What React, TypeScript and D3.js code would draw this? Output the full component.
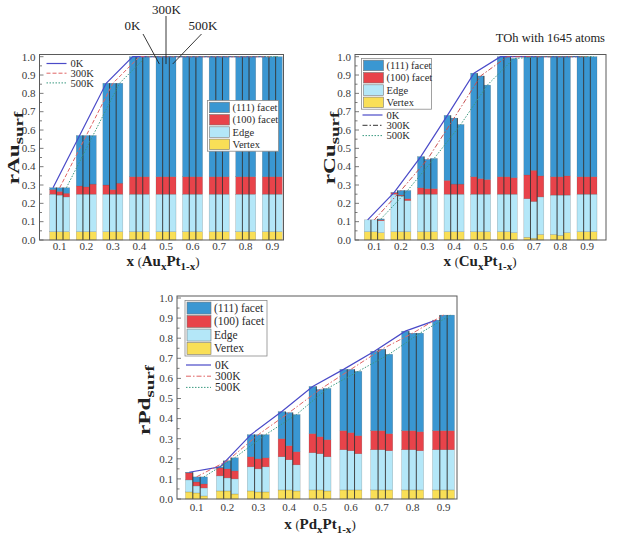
import React from 'react';
import * as d3 from 'd3';

const W = 621;
const H = 546;
const FONT = "'Liberation Serif','Times New Roman',serif";

const xValues = [0.1, 0.2, 0.3, 0.4, 0.5, 0.6, 0.7, 0.8, 0.9];
const xTickLabels = ['0.1', '0.2', '0.3', '0.4', '0.5', '0.6', '0.7', '0.8', '0.9'];
const yTicks = [0, 0.1, 0.2, 0.3, 0.4, 0.5, 0.6, 0.7, 0.8, 0.9, 1.0];
const temps = ['0K', '300K', '500K'];
const layerKeys = ['vertex', 'edge', 'f100', 'f111'];
const layerLabels = ['Vertex', 'Edge', '(100) facet', '(111) facet'];

// ---------- Au_xPt_(1-x) ----------  rows: 0K, 300K, 500K
const auVertex = [
  [0.045, 0.045, 0.045, 0.045, 0.045, 0.045, 0.045, 0.045, 0.045],
  [0.045, 0.045, 0.045, 0.045, 0.045, 0.045, 0.045, 0.045, 0.045],
  [0.045, 0.045, 0.045, 0.045, 0.045, 0.045, 0.045, 0.045, 0.045],
];
const auEdge = [
  [0.205, 0.205, 0.205, 0.205, 0.205, 0.205, 0.205, 0.205, 0.205],
  [0.2, 0.205, 0.205, 0.205, 0.205, 0.205, 0.205, 0.205, 0.205],
  [0.19, 0.205, 0.205, 0.205, 0.205, 0.205, 0.205, 0.205, 0.205],
];
const auF100 = [
  [0.025, 0.045, 0.05, 0.095, 0.095, 0.095, 0.095, 0.095, 0.095],
  [0.02, 0.04, 0.025, 0.095, 0.095, 0.095, 0.095, 0.095, 0.095],
  [0.02, 0.055, 0.06, 0.095, 0.095, 0.095, 0.095, 0.095, 0.095],
];
const auF111 = [
  [0.01, 0.275, 0.555, 0.655, 0.655, 0.655, 0.655, 0.655, 0.655],
  [0.02, 0.28, 0.58, 0.655, 0.655, 0.655, 0.655, 0.655, 0.655],
  [0.03, 0.265, 0.545, 0.655, 0.655, 0.655, 0.655, 0.655, 0.655],
];

// ---------- Cu_xPt_(1-x) ----------
const cuVertex = [
  [0.045, 0.045, 0.045, 0.045, 0.045, 0.045, 0.015, 0.03, 0.045],
  [0.045, 0.045, 0.045, 0.045, 0.045, 0.045, 0.01, 0.025, 0.045],
  [0.04, 0.045, 0.045, 0.045, 0.045, 0.04, 0.03, 0.04, 0.045],
];
const cuEdge = [
  [0.065, 0.205, 0.205, 0.205, 0.205, 0.205, 0.21, 0.215, 0.205],
  [0.065, 0.195, 0.205, 0.205, 0.205, 0.205, 0.2, 0.22, 0.205],
  [0.065, 0.17, 0.205, 0.205, 0.205, 0.21, 0.205, 0.205, 0.205],
];
const cuF100 = [
  [0, 0.008, 0.035, 0.075, 0.095, 0.095, 0.13, 0.1, 0.095],
  [0, 0.005, 0.03, 0.055, 0.085, 0.095, 0.17, 0.1, 0.095],
  [0.005, 0.01, 0.03, 0.055, 0.08, 0.09, 0.115, 0.105, 0.095],
];
const cuF111 = [
  [0, 0.002, 0.17, 0.355, 0.565, 0.655, 0.645, 0.655, 0.655],
  [0, 0.025, 0.16, 0.36, 0.56, 0.655, 0.62, 0.655, 0.655],
  [0.005, 0.045, 0.165, 0.325, 0.515, 0.65, 0.65, 0.65, 0.655],
];

// ---------- Pd_xPt_(1-x) ----------
const pdVertex = [
  [0.035, 0.04, 0.04, 0.045, 0.045, 0.045, 0.045, 0.045, 0.045],
  [0.03, 0.04, 0.035, 0.045, 0.045, 0.045, 0.045, 0.045, 0.045],
  [0.015, 0.025, 0.035, 0.04, 0.04, 0.045, 0.045, 0.045, 0.045],
];
const pdEdge = [
  [0.06, 0.075, 0.12, 0.165, 0.185, 0.2, 0.2, 0.2, 0.2],
  [0.035, 0.065, 0.115, 0.15, 0.18, 0.195, 0.2, 0.2, 0.2],
  [0.04, 0.075, 0.125, 0.13, 0.17, 0.18, 0.195, 0.195, 0.2],
];
const pdF100 = [
  [0.035, 0.04, 0.05, 0.09, 0.095, 0.095, 0.095, 0.095, 0.095],
  [0.02, 0.045, 0.05, 0.07, 0.085, 0.09, 0.095, 0.095, 0.095],
  [0.02, 0.04, 0.045, 0.065, 0.085, 0.09, 0.085, 0.095, 0.095],
];
const pdF111 = [
  [0.003, 0.005, 0.11, 0.135, 0.235, 0.305, 0.395, 0.495, 0.55],
  [0.025, 0.04, 0.12, 0.165, 0.235, 0.315, 0.405, 0.485, 0.575],
  [0.035, 0.065, 0.115, 0.185, 0.255, 0.32, 0.395, 0.49, 0.575],
];

const COLORS: Record<string, string> = {
  vertex: '#f9df57',
  edge: '#b4e7f8',
  f100: '#e8434a',
  f111: '#3a97d2',
};

type LineStyle = { color: string; legendColor: string; dash: string | null; width: number };

const auLines: LineStyle[] = [
  { color: '#4a4ac8', legendColor: '#4a4ac8', dash: null, width: 1.2 },
  { color: '#e06464', legendColor: '#e06464', dash: '4,2', width: 1 },
  { color: '#3a9a80', legendColor: '#3a9a80', dash: '1.5,1.5', width: 1 },
];
const cuLines: LineStyle[] = [
  { color: '#4a4ac8', legendColor: '#4a4ac8', dash: null, width: 1.2 },
  { color: '#c85050', legendColor: '#333333', dash: '5,2,1.5,2', width: 1 },
  { color: '#3a9a80', legendColor: '#3a9a80', dash: '1.5,1.5', width: 1 },
];
const pdLines: LineStyle[] = [
  { color: '#4a4ac8', legendColor: '#4a4ac8', dash: null, width: 1.2 },
  { color: '#e06464', legendColor: '#e06464', dash: '5,2,1.5,2', width: 1 },
  { color: '#3a9a80', legendColor: '#3a9a80', dash: '1.5,1.5', width: 1 },
];

type Layout = {
  left: number; right: number; top: number; y0: number; y1: number;
  x1c: number; x9c: number; gw: number; tickLabelY: number;
  xTitle: [number, number]; yTitle: [number, number];
  barLegend: { x: number; y: number; w: number; rowH: number; swW: number; swH: number; fs: number };
  lineLegend: { x: number; y: number; len: number; rowH: number; fs: number };
};

const panels = [
  {
    elem: 'Au', vertex: auVertex, edge: auEdge, f100: auF100, f111: auF111, lines: auLines,
    layout: {
      left: 39.5, right: 283.5, top: 54.5, y0: 240, y1: 56.7, x1c: 59.7, x9c: 272.3, gw: 20,
      tickLabelY: 250, xTitle: [163, 266], yTitle: [19, 148],
      barLegend: { x: 207.5, y: 100.5, w: 71, rowH: 12.3, swW: 20, swH: 10.5, fs: 10.5 },
      lineLegend: { x: 46.5, y: 63.5, len: 20, rowH: 9.7, fs: 10.5 },
    } as Layout,
  },
  {
    elem: 'Cu', vertex: cuVertex, edge: cuEdge, f100: cuF100, f111: cuF111, lines: cuLines,
    layout: {
      left: 355, right: 606, top: 54.5, y0: 240, y1: 56.7, x1c: 374.3, x9c: 587, gw: 20,
      tickLabelY: 250, xTitle: [480, 266], yTitle: [335, 148],
      barLegend: { x: 361.5, y: 58.5, w: 70, rowH: 12.3, swW: 20, swH: 10.5, fs: 10.5 },
      lineLegend: { x: 362.5, y: 115, len: 20, rowH: 10.3, fs: 10.5 },
    } as Layout,
  },
  {
    elem: 'Pd', vertex: pdVertex, edge: pdEdge, f100: pdF100, f111: pdF111, lines: pdLines,
    layout: {
      left: 177, right: 457, top: 296, y0: 499, y1: 298, x1c: 196.5, x9c: 443.5, gw: 22,
      tickLabelY: 511, xTitle: [320, 529], yTitle: [150, 400],
      barLegend: { x: 185, y: 300.5, w: 82, rowH: 13.5, swW: 24, swH: 12, fs: 11.5 },
      lineLegend: { x: 186, y: 365, len: 25, rowH: 11.2, fs: 11.5 },
    } as Layout,
  },
];

function Panel({ p }: { p: (typeof panels)[number] }) {
  const L = p.layout;
  const x = d3.scaleLinear().domain([0.1, 0.9]).range([L.x1c, L.x9c]);
  const y = d3.scaleLinear().domain([0, 1]).range([L.y0, L.y1]);
  const band = d3.scaleBand<string>().domain(temps).range([-L.gw / 2, L.gw / 2]).padding(0);
  const bw = band.bandwidth();
  const stack = d3.stack<any>().keys(layerKeys);

  const stacked = temps.map((t, ti) => {
    const rows = xValues.map((xv, i) => ({
      x: xv,
      vertex: p.vertex[ti][i],
      edge: p.edge[ti][i],
      f100: p.f100[ti][i],
      f111: p.f111[ti][i],
    }));
    return stack(rows);
  });
  const totals = temps.map((t, ti) => xValues.map((_, i) => stacked[ti][3][i][1]));

  const line = d3.line<[number, number]>().x((d) => d[0]).y((d) => d[1]);
  const minorTicks = d3.range(0, 1.001, 0.05);

  return (
    <g>
      {/* bars */}
      {temps.map((t, ti) =>
        stacked[ti].map((series, li) =>
          series.map((d, i) => {
            const x0 = x(xValues[i]) + (band(t) as number);
            const h = y(d[0]) - y(d[1]);
            if (h <= 0) return null;
            return (
              <rect
                key={`${t}-${li}-${i}`}
                x={x0}
                y={y(d[1])}
                width={bw}
                height={h}
                fill={COLORS[layerKeys[li]]}
                stroke="rgba(70,70,70,0.45)"
                strokeWidth={0.4}
              />
            );
          })
        )
      )}
      {/* dividers between bars */}
      {xValues.map((xv, i) =>
        [0, 1].map((k) => {
          const xx = x(xv) + (band(temps[k]) as number) + bw;
          const top = Math.max(totals[k][i], totals[k + 1][i]);
          return (
            <line key={`div-${i}-${k}`} x1={xx} x2={xx} y1={y(0)} y2={y(top)} stroke="#2a2a2a" strokeWidth={0.8} />
          );
        })
      )}
      {/* temperature lines */}
      {temps.map((t, ti) => {
        const pts: [number, number][] = xValues.map((xv, i) => [
          x(xv) + (band(t) as number) + bw / 2,
          y(totals[ti][i]),
        ]);
        const st = p.lines[ti];
        return (
          <path
            key={`ln-${t}`}
            d={line(pts) || ''}
            fill="none"
            stroke={st.color}
            strokeWidth={st.width}
            strokeDasharray={st.dash || undefined}
          />
        );
      })}
      {/* frame */}
      <rect x={L.left} y={L.top} width={L.right - L.left} height={L.y0 - L.top} fill="none" stroke="#5a5a5a" strokeWidth={1} />
      {/* y ticks */}
      {minorTicks.map((v, i) => (
        <line
          key={`yt-${i}`}
          x1={L.left}
          x2={L.left + (i % 2 === 0 ? 4 : 2.5)}
          y1={y(v)}
          y2={y(v)}
          stroke="#5a5a5a"
          strokeWidth={0.8}
        />
      ))}
      {yTicks.map((v) => (
        <text key={`yl-${v}`} x={L.left - 4} y={y(v) + 3.8} textAnchor="end" fontSize={11} fill="#3a3a3a" fontFamily={FONT}>
          {v.toFixed(1)}
        </text>
      ))}
      {xValues.map((xv, i) => (
        <text key={`xl-${i}`} x={x(xv)} y={L.tickLabelY} textAnchor="middle" fontSize={11} fill="#3a3a3a" fontFamily={FONT}>
          {xTickLabels[i]}
        </text>
      ))}
      {/* x title */}
      <text x={L.xTitle[0]} y={L.xTitle[1]} textAnchor="middle" fontFamily={FONT} fontWeight="bold" fontSize={15} fill="#222">
        x <tspan fontWeight="normal" fontSize={12}>(</tspan>
        {p.elem}
        <tspan fontSize={11} dy={4}>x</tspan>
        <tspan dy={-4}>Pt</tspan>
        <tspan fontSize={11} dy={4}>1-x</tspan>
        <tspan fontWeight="normal" fontSize={13} dy={-4}>)</tspan>
      </text>
      {/* y title */}
      <text
        transform={`translate(${L.yTitle[0]},${L.yTitle[1]}) rotate(-90) scale(1.45,1)`}
        textAnchor="middle"
        fontFamily={FONT}
        fontWeight="bold"
        fontSize={16}
        fill="#222"
      >
        r{p.elem}
        <tspan fontSize={13} dy={4}>surf</tspan>
      </text>
      {/* bar legend */}
      <g>
        <rect
          x={L.barLegend.x}
          y={L.barLegend.y}
          width={L.barLegend.w}
          height={L.barLegend.rowH * 4 + 1.5}
          fill="#fff"
          stroke="#8a8a8a"
          strokeWidth={0.8}
        />
        {[3, 2, 1, 0].map((li, r) => {
          const cy = L.barLegend.y + L.barLegend.rowH * (r + 0.5) + 0.8;
          return (
            <g key={`bl-${li}`}>
              <rect
                x={L.barLegend.x + 2}
                y={cy - L.barLegend.swH / 2}
                width={L.barLegend.swW}
                height={L.barLegend.swH}
                fill={COLORS[layerKeys[li]]}
                stroke="#777"
                strokeWidth={0.6}
              />
              <text
                x={L.barLegend.x + L.barLegend.swW + 5}
                y={cy + 3.7}
                fontSize={L.barLegend.fs}
                fontFamily={FONT}
                fill="#2a2a2a"
              >
                {layerLabels[li]}
              </text>
            </g>
          );
        })}
      </g>
      {/* line legend */}
      <g>
        {temps.map((t, ti) => {
          const cy = L.lineLegend.y + ti * L.lineLegend.rowH;
          const st = p.lines[ti];
          return (
            <g key={`ll-${t}`}>
              <line
                x1={L.lineLegend.x}
                x2={L.lineLegend.x + L.lineLegend.len}
                y1={cy}
                y2={cy}
                stroke={st.legendColor}
                strokeWidth={st.width}
                strokeDasharray={st.dash || undefined}
              />
              <text x={L.lineLegend.x + L.lineLegend.len + 4} y={cy + 3.6} fontSize={L.lineLegend.fs} fontFamily={FONT} fill="#2a2a2a">
                {t}
              </text>
            </g>
          );
        })}
      </g>
    </g>
  );
}

// annotation of the Au panel: labels pointing to the x = 0.5 bars
const annotLabels = ['0K', '300K', '500K'];
const annotTextPos: [number, number][] = [[132.5, 30], [166.5, 14], [203, 30]];
const annotStart: [number, number][] = [[143, 34], [166, 16], [201.5, 34]];

export default function App() {
  const au = panels[0].layout;
  const xAu = d3.scaleLinear().domain([0.1, 0.9]).range([au.x1c, au.x9c]);
  const yAu = d3.scaleLinear().domain([0, 1]).range([au.y0, au.y1]);
  const bandAu = d3.scaleBand<string>().domain(temps).range([-au.gw / 2, au.gw / 2]);
  return (
    <svg width={W} height={H} style={{ position: 'absolute', left: 0, top: 0, background: '#fff' }}>
      <rect x={0} y={0} width={W} height={H} fill="#fff" />
      {panels.map((p) => (
        <Panel key={p.elem} p={p} />
      ))}
      {annotLabels.map((t, i) => (
        <g key={`an-${t}`}>
          <text x={annotTextPos[i][0]} y={annotTextPos[i][1]} textAnchor="middle" fontSize={13} fontFamily={FONT} fill="#222">
            {t}
          </text>
          <line
            x1={annotStart[i][0]}
            y1={annotStart[i][1]}
            x2={xAu(0.5) + (bandAu(temps[i]) as number) + bandAu.bandwidth() / 2}
            y2={yAu(0.96)}
            stroke="#222"
            strokeWidth={0.9}
          />
        </g>
      ))}
      <text x={605} y={42} textAnchor="end" fontSize={12.5} fontFamily={FONT} fill="#222">
        TOh with 1645 atoms
      </text>
    </svg>
  );
}
